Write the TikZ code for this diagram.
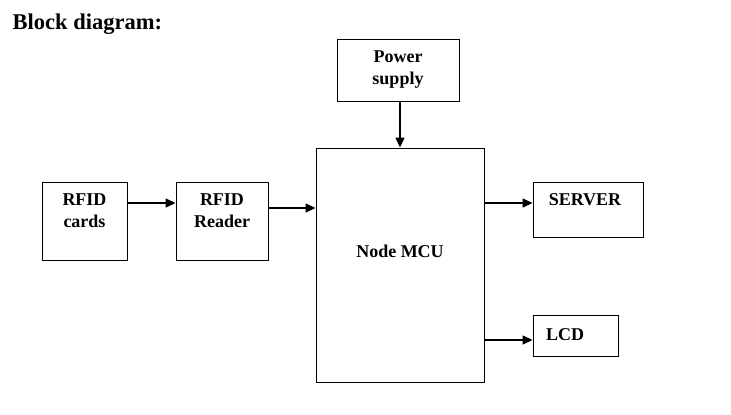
\documentclass[tikz,border=0pt]{standalone}
\usepackage{fontspec}
\setmainfont{Liberation Serif}
\usetikzlibrary{arrows.meta,calc}
\tikzset{
  blk/.style={draw=black, line width=0.9pt, inner sep=0pt, fill=white},
  lbl/.style={font=\fontsize{18}{22.5}\selectfont\bfseries, align=center, inner sep=0pt},
  conn/.style={line width=1.4pt, -{Triangle[length=10pt,width=9pt]}},
}
\begin{document}
\begin{tikzpicture}[x=1pt,y=-1pt]
\useasboundingbox[fill=white] (0,0) rectangle (731,415);
\node[anchor=west, inner sep=0pt, font=\fontsize{22.5}{26}\selectfont\bfseries] (title) at (12.5,24) {Block diagram:};
% boxes
\node[blk, minimum width=122pt, minimum height=62pt] (power) at (398,70) {};
\node[blk, minimum width=168pt, minimum height=234pt] (mcu) at (400,265) {};
\node[blk, minimum width=85pt, minimum height=78pt] (cards) at (84.5,221) {};
\node[blk, minimum width=92pt, minimum height=78pt] (reader) at (222,221) {};
\node[blk, minimum width=110pt, minimum height=55pt] (server) at (588,209.5) {};
\node[blk, minimum width=85pt, minimum height=41pt] (lcd) at (575.5,335.5) {};
% texts
\node[lbl] (tpower) at (398,69.5) {Power\\supply};
\node[lbl] (tmcu) at (400,251) {Node MCU};
\node[lbl] (tcards) at (84.5,210.5) {RFID\\cards};
\node[lbl] (treader) at (222,210.5) {RFID\\Reader};
\node[lbl] (tserver) at (585,200) {SERVER};
\node[lbl] (tlcd) at (565,335) {LCD};
% connectors
\draw[conn] ([xshift=2pt]power.south) -- ([xshift=2pt]power.south |- mcu.north);
\draw[conn] ([yshift=18pt]cards.east) -- ([yshift=18pt]reader.west);
\draw[conn] ([yshift=13pt]reader.east) -- ([yshift=13pt]reader.east -| mcu.west);
\draw[conn] ([yshift=6.5pt]server.west -| mcu.east) -- ([yshift=6.5pt]server.west);
\draw[conn] ([yshift=-4.5pt]lcd.west -| mcu.east) -- ([yshift=-4.5pt]lcd.west);
\end{tikzpicture}
\end{document}
